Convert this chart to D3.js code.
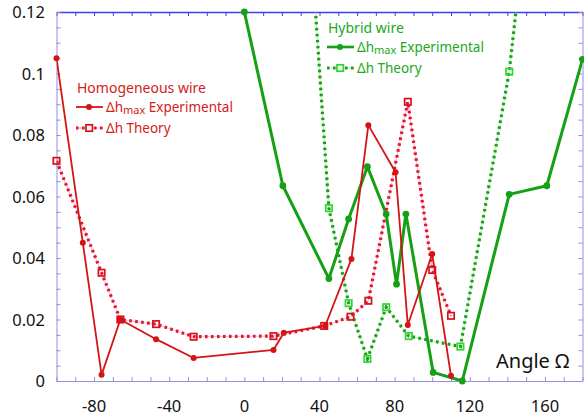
<!DOCTYPE html>
<html>
<head>
<meta charset="utf-8">
<script src="https://cdn.jsdelivr.net/npm/d3@7"></script>
<style>
  body { margin: 0; background: #fff; }
  svg { display: block; font-family: "Noto Sans", "Open Sans", sans-serif; }
</style>
</head>
<body>
<div id="chart"></div>
<script>
// values
var homExpAngle = [-100, -86, -76, -66, -47, -27, 15.5, 21, 43, 57, 66, 80.5, 87, 100, 110];
var homExpDh    = [0.105, 0.045, 0.002, 0.020, 0.0136, 0.0075, 0.0101, 0.0157, 0.0179, 0.0397, 0.0832, 0.0679, 0.0182, 0.0413, 0.0017];
var homThAngle  = [-100, -76, -66, -47, -27, 15.5, 42.5, 56.5, 66, 87, 100, 110];
var homThDh     = [0.0716, 0.0352, 0.020, 0.0185, 0.0144, 0.0146, 0.0179, 0.0209, 0.0261, 0.0908, 0.0361, 0.0212];
var hybExpAngle = [0, 20.5, 45, 55.5, 65.5, 75.5, 81, 86, 100.5, 116, 141, 161, 180];
var hybExpDh    = [0.12, 0.0635, 0.0333, 0.0527, 0.0697, 0.0543, 0.0315, 0.0543, 0.0028, 0, 0.0607, 0.0635, 0.1046];
var hybThAngle  = [35, 45, 55.5, 65.5, 75.5, 87.5, 115, 141, 150];
var hybThDh     = [0.146, 0.0562, 0.0253, 0.0072, 0.024, 0.0146, 0.0112, 0.1006, 0.15];
var xTickLabels = [-80, -40, 0, 40, 80, 120, 160];
var yTickLabels = [0, 0.02, 0.04, 0.06, 0.08, 0.1, 0.12];

const width = 584, height = 420,
    pLeft = 56.5, pRight = 582.5, pTop = 12, pBottom = 381;

const svg = d3.select("#chart").append("svg")
    .attr("width", width).attr("height", height);

const x = d3.scaleLinear().domain([-100, 180]).range([pLeft, pRight]);
const y = d3.scaleLinear().domain([0, 0.12]).range([pBottom, pTop]);

const defs = svg.append("defs");
defs.append("clipPath").attr("id", "plotClip").append("rect")
    .attr("x", pLeft).attr("y", pTop).attr("width", pRight - pLeft).attr("height", pBottom - pTop);
defs.append("clipPath").attr("id", "markClip").append("rect")
    .attr("x", pLeft - 6).attr("y", pTop - 6).attr("width", pRight - pLeft + 12).attr("height", pBottom - pTop + 12);

// axes, ticks pointing inward
const minorX = d3.range(-100, 181, 10);
const minorY = d3.range(0, 0.1201, 0.005);
const axisLight = "#8f8fe3", axisTop = "#3f3ff0";

svg.append("g").attr("transform", `translate(0,${pBottom})`)
    .call(d3.axisTop(x).tickValues(minorX).tickSize(4).tickSizeOuter(0).tickFormat(""))
    .call(g => g.select(".domain").attr("stroke", axisLight))
    .call(g => g.selectAll(".tick line").attr("stroke", axisLight));
svg.append("g").attr("transform", `translate(0,${pTop})`)
    .call(d3.axisBottom(x).tickValues(minorX).tickSize(4).tickSizeOuter(0).tickFormat(""))
    .call(g => g.select(".domain").attr("stroke", axisTop).attr("stroke-width", 1.3))
    .call(g => g.selectAll(".tick line").attr("stroke", axisTop));
svg.append("g").attr("transform", `translate(${pLeft},0)`)
    .call(d3.axisRight(y).tickValues(minorY).tickSize(4).tickSizeOuter(0).tickFormat(""))
    .call(g => g.select(".domain").attr("stroke", axisLight))
    .call(g => g.selectAll(".tick line").attr("stroke", axisLight));
svg.append("g").attr("transform", `translate(${pRight},0)`)
    .call(d3.axisLeft(y).tickValues(minorY).tickSize(4).tickSizeOuter(0).tickFormat(""))
    .call(g => g.select(".domain").attr("stroke", axisLight))
    .call(g => g.selectAll(".tick line").attr("stroke", axisLight));

// tick labels
svg.append("g").selectAll("text").data(xTickLabels).join("text")
    .attr("x", d => x(d)).attr("y", 412)
    .attr("text-anchor", "middle").attr("font-size", 16.5).attr("fill", "#111")
    .text(d => d);
svg.append("g").selectAll("text").data(yTickLabels).join("text")
    .attr("x", 45).attr("y", d => y(d) + 6)
    .attr("text-anchor", "end").attr("font-size", 16.5).attr("fill", "#111")
    .text(d => d);

svg.append("text").attr("x", 496).attr("y", 368)
    .attr("font-size", 20).attr("fill", "#111").text("Angle Ω");

function pts(xs, ys) { return xs.map((a, i) => [a, ys[i]]); }
const line = d3.line().x(d => x(d[0])).y(d => y(d[1]));

const lines = svg.append("g").attr("clip-path", "url(#plotClip)");
const dots = svg.append("g").attr("clip-path", "url(#markClip)");
const squares = svg.append("g").attr("clip-path", "url(#markClip)");

function drawSolid(data, color, w, r) {
    lines.append("path").datum(data).attr("d", line)
        .attr("fill", "none").attr("stroke", color).attr("stroke-width", w).attr("stroke-linejoin", "round");
    dots.append("g").selectAll("circle").data(data).join("circle")
        .attr("cx", d => x(d[0])).attr("cy", d => y(d[1])).attr("r", r).attr("fill", color);
}
function drawDotted(data, thin, dot, sq) {
    lines.append("path").datum(data).attr("d", line)
        .attr("fill", "none").attr("stroke", thin).attr("stroke-width", 0.8);
    lines.append("path").datum(data).attr("d", line)
        .attr("fill", "none").attr("stroke", dot).attr("stroke-width", 3.2)
        .attr("stroke-dasharray", "2.6,3.4");
    squares.append("g").selectAll("rect").data(data).join("rect")
        .attr("x", d => x(d[0]) - 3.2).attr("y", d => y(d[1]) - 3.2)
        .attr("width", 6.4).attr("height", 6.4)
        .attr("fill", "none").attr("stroke", sq).attr("stroke-width", 1.7);
}

const hybExp = pts(hybExpAngle, hybExpDh), hybTh = pts(hybThAngle, hybThDh);
const homExp = pts(homExpAngle, homExpDh), homTh = pts(homThAngle, homThDh);

drawDotted(hybTh, "#9be89b", "#1b9f1b", "#2fd62f");
drawSolid(hybExp, "#15a015", 3, 3.4);
drawDotted(homTh, "#f5a3ad", "#e3143a", "#d9101c");
drawSolid(homExp, "#d41414", 1.8, 3);

// legends
function legend(x0, yTitle, title, solidColor, dotColor, thinColor, sqColor, textColor, lw) {
    const g = svg.append("g");
    g.append("text").attr("x", x0 + 1).attr("y", yTitle).attr("font-size", 14)
        .attr("fill", textColor).text(title);
    const y1 = yTitle + 14, y2 = yTitle + 35;
    g.append("line").attr("x1", x0).attr("x2", x0 + 27).attr("y1", y1).attr("y2", y1)
        .attr("stroke", solidColor).attr("stroke-width", lw);
    g.append("circle").attr("cx", x0 + 13).attr("cy", y1).attr("r", 3).attr("fill", solidColor);
    const t1 = g.append("text").attr("x", x0 + 30).attr("y", y1 + 5).attr("font-size", 13.5).attr("fill", textColor);
    t1.append("tspan").text("Δh");
    t1.append("tspan").attr("font-size", 11).attr("dy", 2).text("max");
    t1.append("tspan").attr("dy", -2).text(" Experimental");
    g.append("line").attr("x1", x0).attr("x2", x0 + 27).attr("y1", y2).attr("y2", y2)
        .attr("stroke", thinColor).attr("stroke-width", 0.8);
    g.append("line").attr("x1", x0).attr("x2", x0 + 27).attr("y1", y2).attr("y2", y2)
        .attr("stroke", dotColor).attr("stroke-width", 3).attr("stroke-dasharray", "2.6,3.4");
    g.append("rect").attr("x", x0 + 10).attr("y", y2 - 3.2).attr("width", 6.4).attr("height", 6.4)
        .attr("fill", "#fff").attr("stroke", sqColor).attr("stroke-width", 1.7);
    g.append("text").attr("x", x0 + 30).attr("y", y2 + 5).attr("font-size", 13.5)
        .attr("fill", textColor).text("Δh  Theory");
}
legend(76, 93, "Homogeneous wire", "#d41414", "#e3143a", "#f5a3ad", "#d9101c", "#d42020", 1.8);
legend(327, 33, "Hybrid wire", "#15a015", "#1b9f1b", "#9be89b", "#2fd62f", "#22a822", 2.6);
</script>
</body>
</html>
